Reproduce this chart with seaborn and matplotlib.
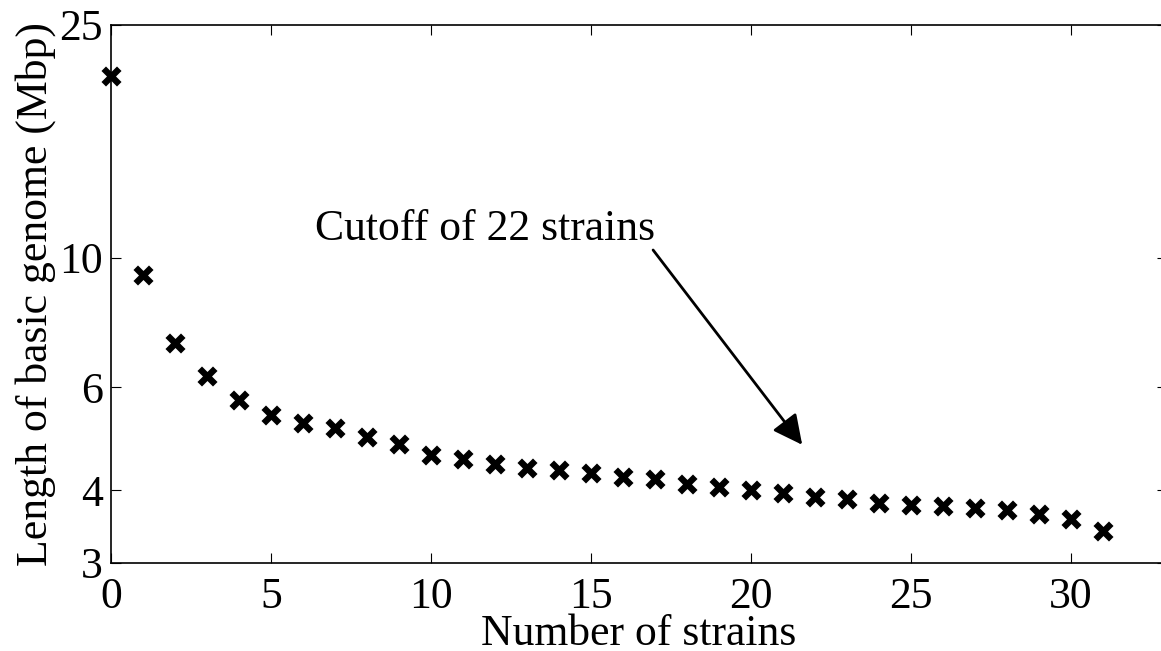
import matplotlib
matplotlib.use("Agg")
import matplotlib.pyplot as plt
import seaborn as sns
import pandas as pd
from matplotlib.ticker import FixedLocator, FixedFormatter, NullLocator

# ---- data ----
strains = list(range(32))
length_mbp = [20.45, 9.32, 7.15, 6.27, 5.70, 5.38, 5.20, 5.10, 4.93, 4.80,
              4.59, 4.52, 4.44, 4.37, 4.33, 4.28, 4.21, 4.18, 4.10, 4.04,
              4.00, 3.95, 3.89, 3.86, 3.80, 3.77, 3.75, 3.72, 3.70, 3.64,
              3.57, 3.40]
x_ticks = [0, 5, 10, 15, 20, 25, 30]
y_ticks = [3, 4, 6, 10, 25]
y_tick_labels = ["3", "4", "6", "10", "25"]
annot_text = "Cutoff of 22 strains"
annot_text_pos = (6.38, 10.72)
arrow_tail = (16.94, 10.30)
arrow_tip = (21.6, 4.78)

df = pd.DataFrame({"strains": strains, "length": length_mbp})

sns.set_style("ticks")
plt.rcParams["font.family"] = ["Liberation Serif", "DejaVu Serif"]
plt.rcParams["text.color"] = "black"
plt.rcParams["axes.labelcolor"] = "black"
plt.rcParams["xtick.color"] = "black"
plt.rcParams["ytick.color"] = "black"

FS = 31.5

fig = plt.figure(figsize=(11.61, 6.51), dpi=100)
ax = fig.add_axes([111 / 1161, 1 - 563 / 651, 1056 / 1161, 538 / 651])

sns.scatterplot(data=df, x="strains", y="length", marker="x", s=125,
                color="black", linewidth=4.6, ax=ax, clip_on=False, zorder=5)

ax.set_yscale("log")
ax.set_xlim(0, 33)
ax.set_ylim(3, 25)
ax.xaxis.set_major_locator(FixedLocator(x_ticks))
ax.yaxis.set_major_locator(FixedLocator(y_ticks))
ax.yaxis.set_major_formatter(FixedFormatter(y_tick_labels))
ax.yaxis.set_minor_locator(NullLocator())
ax.xaxis.set_minor_locator(NullLocator())

ax.tick_params(axis="both", which="major", direction="in", length=7, width=0.8,
               top=True, right=True, labelsize=FS, color="black",
               labelcolor="black")
ax.tick_params(axis="x", pad=10)
ax.tick_params(axis="y", pad=6)
for sp in ax.spines.values():
    sp.set_visible(True)
    sp.set_linewidth(1.2)
    sp.set_color("black")

ax.set_xlabel("Number of strains", fontsize=FS, labelpad=-2, color="black")
ax.set_ylabel("Length of basic genome (Mbp)", fontsize=FS, labelpad=2,
              color="black")

ax.text(annot_text_pos[0], annot_text_pos[1], annot_text, fontsize=FS,
        ha="left", va="baseline", color="black")
ax.annotate("", xy=arrow_tip, xytext=arrow_tail,
            arrowprops=dict(arrowstyle="-|>,head_length=0.9,head_width=0.45",
                            color="black", lw=2, shrinkA=0, shrinkB=0,
                            mutation_scale=20))

fig.savefig("out.png", dpi=100)
